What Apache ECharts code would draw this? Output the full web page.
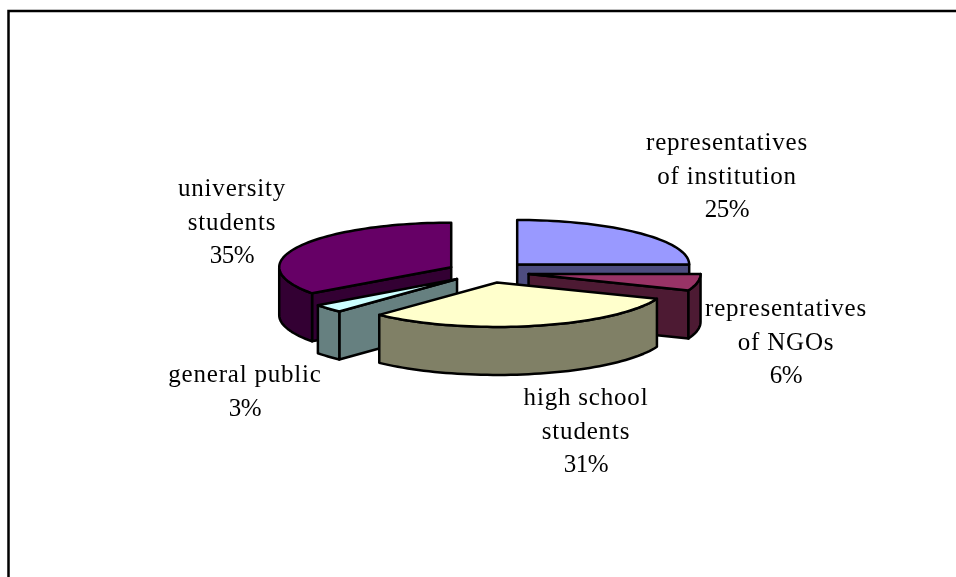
<!DOCTYPE html>
<html>
<head>
<meta charset="utf-8">
<style>html,body{margin:0;padding:0;background:#fff}#c{width:956px;height:577px}</style>
<script src="https://cdn.jsdelivr.net/npm/echarts@6/dist/echarts.min.js"></script>
</head>
<body>
<div id="c"></div>
<script>
const categories = ['representatives of institution', 'representatives of NGOs', 'high school students', 'general public', 'university students'];
const values = [25, 6, 31, 3, 35];
const labelLines = [['representatives', 'of institution'], ['representatives', 'of NGOs'], ['high school', 'students'], ['general public'], ['university', 'students']];
const topColors = ['#9999FF', '#993366', '#FFFFCC', '#CCFFFF', '#660066'];
const sideColors = ['#4D4D80', '#4D1A33', '#808066', '#668080', '#330033'];
const drawOrder = [0, 4, 1, 3, 2];
const labelAnchors = [[727, 131], [786, 297], [586, 386], [245, 363], [232, 177]];

const CX = 488, CY = 272, RX = 172, RY = 44.5, DEPTH = 48, EXPLODE = 0.24, LINE_H = 33.5;

// The reference's labels are letter-spaced; zrender has no option for it, so set it on the canvas.
const nativeFillText = CanvasRenderingContext2D.prototype.fillText;
CanvasRenderingContext2D.prototype.fillText = function (t) {
  this.letterSpacing = /[a-z]/i.test(t) ? '0.8px' : '-0.5px';
  return nativeFillText.apply(this, arguments);
};

const total = values.reduce((a, b) => a + b, 0);
const spans = [];
values.reduce((acc, v) => { spans.push([acc / total * 360, (acc + v) / total * 360]); return acc + v; }, 0);
const rad = d => d * Math.PI / 180;

function arcPts(cx, cy, a0, a1, dy) {
  const pts = [], n = Math.max(2, Math.ceil((a1 - a0) / 2));
  for (let i = 0; i <= n; i++) {
    const a = rad(a0 + (a1 - a0) * i / n);
    pts.push([cx + RX * Math.sin(a), cy - RY * Math.cos(a) + dy]);
  }
  return pts;
}
const poly = (points, fill) => ({
  type: 'polygon',
  shape: { points },
  style: { fill, stroke: '#000', lineWidth: 2.5, lineJoin: 'round' }
});

function renderSlice(params, api) {
  const idx = api.value(0);
  const [a0, a1] = spans[idx];
  const mid = rad((a0 + a1) / 2);
  const cx = CX + EXPLODE * RX * Math.sin(mid);
  const cy = CY - EXPLODE * RY * Math.cos(mid);
  const side = sideColors[idx], children = [];
  const wall = (a) => {
    const p = [cx + RX * Math.sin(rad(a)), cy - RY * Math.cos(rad(a))];
    return poly([[cx, cy], p, [p[0], p[1] + DEPTH], [cx, cy + DEPTH]], side);
  };
  if (Math.sin(rad(a0)) < -1e-6) children.push(wall(a0));
  if (Math.sin(rad(a1)) > 1e-6) children.push(wall(a1));
  const o0 = Math.max(a0, 90), o1 = Math.min(a1, 270);
  if (o1 > o0) {
    const up = arcPts(cx, cy, o0, o1, 0), down = arcPts(cx, cy, o0, o1, DEPTH).reverse();
    children.push(poly(up.concat(down), side));
  }
  children.push(poly([[cx, cy]].concat(arcPts(cx, cy, a0, a1, 0)), topColors[idx]));
  return { type: 'group', children };
}

function renderLabel(params, api) {
  const idx = api.value(0);
  const pct = Math.round(values[idx] / total * 100) + '%';
  const lines = labelLines[idx].concat(pct);
  const [x, y] = labelAnchors[idx];
  return {
    type: 'group',
    children: lines.map((t, i) => ({
      type: 'text', z2: 100,
      x, y: y + i * LINE_H,
      style: { x: 0, y: 0, text: t, fill: '#000', align: 'center', verticalAlign: 'top',
               font: '25px "Liberation Serif"' }
    }))
  };
}

const chart = echarts.init(document.getElementById('c'), null, { renderer: 'canvas' });
chart.setOption({
  animation: false,
  backgroundColor: '#fff',
  graphic: [{
    type: 'polyline', silent: true,
    shape: { points: [[956, 11], [8.5, 11], [8.5, 577]] },
    style: { stroke: '#000', lineWidth: 2.5, fill: null }
  }],
  series: [
    { type: 'custom', coordinateSystem: 'none', silent: true, z: 2, renderItem: renderSlice,
      data: drawOrder.map(i => [i, values[i], categories[i]]) },
    { type: 'custom', coordinateSystem: 'none', silent: true, z: 3, renderItem: renderLabel,
      data: categories.map((c, i) => [i, values[i], c]) }
  ]
});
</script>
</body>
</html>
